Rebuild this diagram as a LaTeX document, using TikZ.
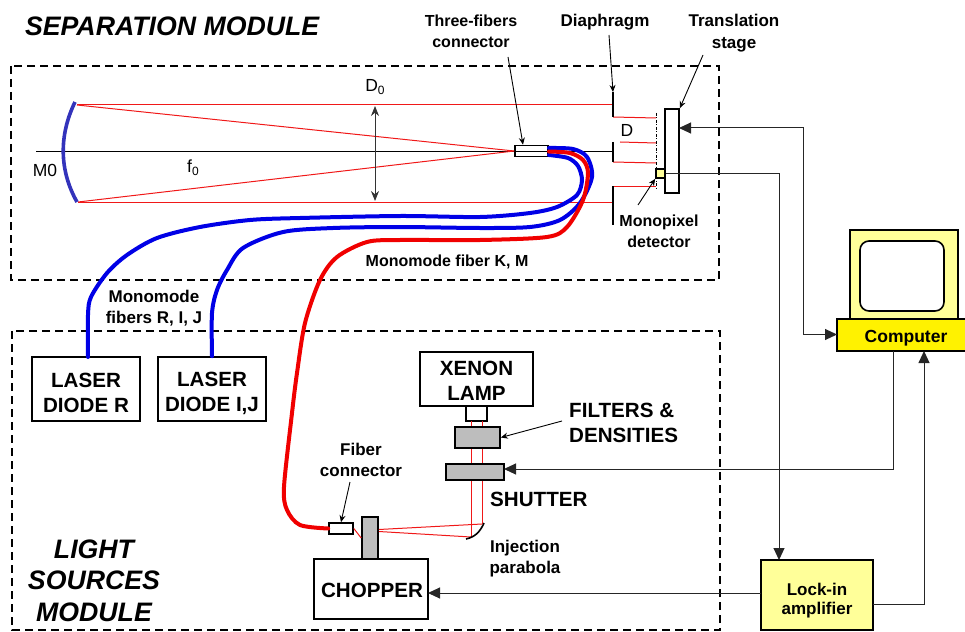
\documentclass[tikz,border=0pt]{standalone}
\usepackage{fontspec}
\setmainfont{Liberation Sans}
\usetikzlibrary{arrows.meta,positioning,calc}
\definecolor{fibblue}{HTML}{0000E6}
\definecolor{fibred}{HTML}{F00000}
\definecolor{raypink}{HTML}{F01818}
\definecolor{mirrblue}{HTML}{3333BB}
\definecolor{paleyel}{HTML}{FFFF99}
\definecolor{plategray}{HTML}{BDBDBD}
\tikzset{
  bx/.style={draw=black, line width=1.6pt, fill=white, align=center, inner sep=0pt},
  plate/.style={bx, fill=plategray},
  ybx/.style={bx, fill=paleyel},
  modbox/.style={draw=black, line width=2.3pt, dash pattern=on 8pt off 5pt},
  fibb/.style={draw=fibblue, line width=4pt, line cap=round},
  fibr/.style={draw=fibred, line width=4pt, line cap=round},
  ray/.style={draw=raypink, line width=1pt},
  axisl/.style={draw=black, line width=0.9pt},
  sig/.style={draw=black!85, line width=1pt},
  sigarr/.style={sig, -{Triangle[length=12pt,width=11pt]}},
  leader/.style={draw=black, line width=0.9pt, -{Stealth[length=7pt,width=6pt]}},
  title/.style={font=\fontsize{26.7}{31.5}\selectfont\bfseries\itshape, align=center},
  lbl/.style={font=\fontsize{17}{21}\selectfont\bfseries, align=center},
  lbls/.style={font=\fontsize{16}{21}\selectfont\bfseries, align=center},
  biglbl/.style={font=\fontsize{20.6}{25}\selectfont\bfseries, align=center},
  opt/.style={font=\fontsize{17.5}{20}\selectfont},
}
\begin{document}
\begin{tikzpicture}[x=1pt,y=-1pt]
  \useasboundingbox (0,0) rectangle (965,631);
  \node[title, anchor=west] (septitle) at (21.5,26) {SEPARATION MODULE};
  \node[title] (srctitle) at (94,580.5) {LIGHT\\SOURCES\\MODULE};
  \coordinate (sa) at (11,66);
  \coordinate (sb) at (719,280);
  \coordinate (la) at (12,331);
  \coordinate (lb) at (720,630);
  \draw[modbox] (sa) rectangle (sb);
  \draw[modbox] (la) rectangle (lb);

  \node[bx, minimum width=108pt, minimum height=64pt] (ldr) at (86,389) {};
  \node[bx, minimum width=108pt, minimum height=64pt] (ldij) at (212,389) {};
  \node[bx, minimum width=113pt, minimum height=54pt] (xenon) at (476.5,379) {};
  \node[bx, minimum width=21pt, minimum height=15pt] (snout) at (476.5,413.5) {};
  \node[plate, minimum width=45pt, minimum height=21pt] (filt) at (477.5,437.5) {};
  \node[plate, minimum width=58pt, minimum height=16pt] (shut) at (475,472) {};
  \node[bx, minimum width=114pt, minimum height=60pt] (chop) at (371,589) {};
  \node[plate, minimum width=16pt, minimum height=42pt] (blade) at (370,538) {};
  \node[bx, minimum width=24pt, minimum height=11pt] (fconn) at (341,528.5) {};
  \node[bx, minimum width=33pt, minimum height=11pt] (tconn) at (531.5,151) {};
  \node[biglbl] (ldrtxt) at (86,393) {LASER\\DIODE R};
  \node[biglbl] (ldijtxt) at (212,393) {LASER\\DIODE I,J};
  \node[biglbl] (xenontxt) at (476.5,380.5) {XENON\\LAMP};
  \node[biglbl] (choptxt) at (372,590) {CHOPPER};

  \coordinate (mtop) at (75,102);
  \coordinate (mbot) at (77,202);
  \coordinate (rtop) at (77,105);
  \coordinate (rbot) at (78,202);
  \coordinate (dtop) at (613,105);
  \coordinate (dbot) at (613,202);
  \coordinate (ax) at (36,151);
  \coordinate (d1a) at (613,92);
  \coordinate (d1b) at (613,117);
  \coordinate (d2a) at (613,142);
  \coordinate (d2b) at (613,162);
  \coordinate (d3a) at (613,186);
  \coordinate (d3b) at (613,225);
  \coordinate (s1) at (656,113);
  \coordinate (s2) at (656,188);
  \coordinate (ldrport) at (88,357);

  \draw[axisl] (ax) -- (d2a |- ax);
  \foreach \nm in {rtop,rbot} \draw[ray] (\nm) -- (tconn.west);
  \draw[ray] (rtop) -- (dtop);
  \draw[ray] (rbot) -- (dbot);
  \draw[ray] (d1b) -- (656,118);
  \draw[ray] (620,142) -- (656,143);
  \draw[ray] (d2b) -- (656,163);
  \draw[ray] (d3a) -- (656,186);
  \foreach \a/\b in {d1a/d1b,d2a/d2b,d3a/d3b} \draw[draw=black, line width=1.6pt] (\a) -- (\b);
  \draw[black, line width=1pt, dash pattern=on 3pt off 1.5pt on 1pt off 1.5pt] (s1) -- (s2);
  \draw[mirrblue, line width=3.6pt] (mtop) .. controls (59,135) and (59,170) .. (mbot);
  \draw[black!80, line width=1pt, {Stealth[length=10pt,width=8pt]}-{Stealth[length=10pt,width=8pt]}] (375,106) -- (375,201);

  \draw[fibb] plot[smooth, tension=0.5] coordinates {(ldrport) (88,315) (91,297) (107,273) (127,255) (157,238) (200,227) (250,220) (300,218) (400,216) (480,217) (530,213) (557,207) (577,195) (582,180) (578,166) (568,158) (549,155)};
  \draw[fibb] plot[smooth, tension=0.5] coordinates {(ldij.north) (212,313) (217,290) (227,270) (243,248) (283,232) (333,228) (400,227) (480,228) (530,227) (560,220) (580,203) (592,177) (587,157) (573,149) (549,148)};
  \draw[fibr] plot[smooth, tension=0.5] coordinates {(fconn.west) (300,525) (287,510) (284,487) (292,413) (297,373) (305,323) (320,280) (337,257) (367,242) (400,240) (480,240) (547,237) (567,227) (583,200) (588,173) (583,160) (570,153) (549,151.5)};

  \node[bx, minimum width=14pt, minimum height=84pt] (stage) at (672,151) {};
  \node[bx, fill=paleyel, minimum width=9pt, minimum height=9pt] (det) at (660.5,173.5) {};

  \coordinate (lampl) at (471,421);
  \coordinate (lampr) at (482,421);
  \coordinate (parl) at (471,537);
  \coordinate (parr) at (482,524);
  \coordinate (parla) at (466,539);
  \coordinate (parrb) at (484,523);
  \draw[ray] (parl) -- (blade.east |- 0,531.5);
  \draw[ray] (parr) -- (blade.east |- 0,529.5);
  \draw[ray] (fconn.east) -- (blade.west);
  \draw[ray] (lampl) -- (filt.north -| lampl) (filt.south -| lampl) -- (shut.north -| lampl) (shut.south -| lampl) -- (parl);
  \draw[ray] (lampr) -- (filt.north -| lampr) (filt.south -| lampr) -- (shut.north -| lampr) (shut.south -| lampr) -- (parr);
  \draw[black, line width=1.6pt] (parrb) .. controls (480,532) and (475,537) .. (parla);

  \node[draw=black, line width=1.6pt, fill=paleyel, minimum width=108pt, minimum height=89pt, inner sep=0pt] (mon) at (904,274.5) {};
  \node[draw=black, line width=1.6pt, fill=white, rounded corners=9pt, minimum width=84pt, minimum height=70pt, inner sep=0pt] (screen) at (902,276) {};
  \node[ybx, fill=yellow, minimum width=138pt, minimum height=32pt] (comp) at (906,335) {};
  \node[font=\fontsize{17.5}{19}\selectfont\bfseries] (comptxt) at (906,338) {Computer};
  \node[ybx, minimum width=112pt, minimum height=70pt] (lock) at (817,595) {};
  \node[lbl, font=\fontsize{17}{19.5}\selectfont\bfseries] (locktxt) at (817,600.5) {Lock-in\\amplifier};

  \coordinate (stagein) at (679,128);
  \coordinate (compin) at (837,334.5);
  \coordinate (lockin) at (779,560);
  \coordinate (compout) at (893,351);
  \coordinate (shutin) at (504,469);
  \coordinate (lockr) at (873,604);
  \coordinate (compb) at (924,351);
  \coordinate (lockl) at (761,593);
  \coordinate (chopr) at (428,593);

  \draw[sig, {Triangle[length=12pt,width=11pt]}-{Triangle[length=12pt,width=11pt]}] (stagein) -| (803,334.5) -- (compin);
  \draw[sigarr] (det.east) -| (lockin);
  \draw[sigarr] (compout) |- (shutin);
  \draw[sigarr] (lockr) -| (compb);
  \draw[sigarr] (lockl) -- (chopr);

  \node[opt] (lmzero) at (45,170) {M0};
  \node[opt] (lfzero) at (193,168) {f\raisebox{-3pt}{\fontsize{12}{12}\selectfont 0}};
  \node[opt] (ldzero) at (375,87) {D\raisebox{-3pt}{\fontsize{12}{12}\selectfont 0}};
  \node[opt] (ld) at (627,130) {D};
  \node[lbls] (lthree) at (471,31.5) {Three-fibers\\connector};
  \node[lbl] (ldia) at (605,22) {Diaphragm};
  \node[lbl, font=\fontsize{17}{22}\selectfont\bfseries] (ltrans) at (734,33) {Translation\\stage};
  \node[lbls] (lmono) at (659,231.5) {Monopixel\\detector};
  \node[lbls] (lkm) at (447,262) {Monomode fiber K, M};
  \node[lbl] (lrij) at (154,308.5) {Monomode\\fibers R, I, J};
  \node[lbl] (lfib) at (361,459.5) {Fiber\\connector};
  \node[lbl] (linj) at (525,558.5) {Injection\\parabola};
  \node[biglbl, anchor=west, align=left] (lfilt) at (565.7,422.5) {FILTERS \&\\DENSITIES};
  \node[biglbl, anchor=west] (lshut) at (486.7,499) {SHUTTER};

  \draw[leader] (508,57) -- (tconn.north -| 523,0);
  \draw[leader] (609,35) -- (d1a);
  \draw[leader] (703,55) -- (stage.north east);
  \draw[leader] (638,205) -- (det.south west);
  \draw[leader] (350,482) -- (fconn.north);
  \draw[leader] (562,421) -- (filt.east);
\end{tikzpicture}
\end{document}
